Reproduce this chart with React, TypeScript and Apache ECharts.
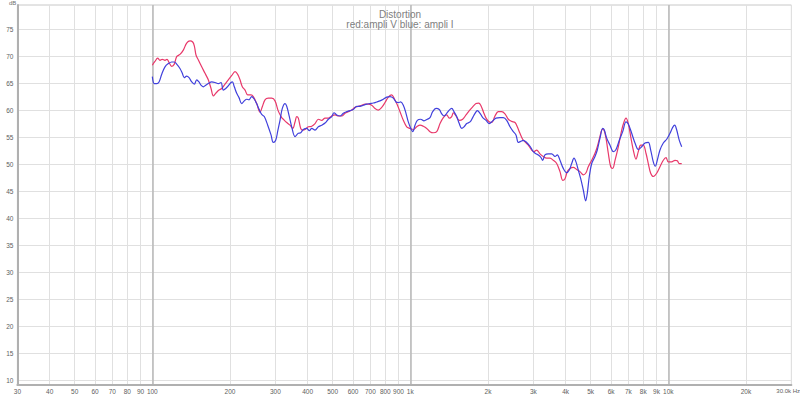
import React, { useEffect, useRef } from "react";
import * as echarts from "echarts";

const titleText = "Distortion";
const subtitleText = "red:ampli V blue: ampli I";
const yUnit = "dB";

const xTickHz = [30, 40, 50, 60, 70, 80, 90, 100, 200, 300, 400, 500, 600, 700, 800, 900, 1000, 2000, 3000, 4000, 5000, 6000, 7000, 8000, 9000, 10000, 20000, 30000];
const xTickLabels = ["30", "40", "50", "60", "70", "80", "90", "100", "200", "300", "400", "500", "600", "700", "800", "900", "1k", "2k", "3k", "4k", "5k", "6k", "7k", "8k", "9k", "10k", "20k", "30.0k Hz"];
const xDecadeHz = [100, 1000, 10000];
const yTicks = [10, 15, 20, 25, 30, 35, 40, 45, 50, 55, 60, 65, 70, 75];

const redFreq = [100, 102.4, 104.9, 107.1, 109.3, 112.0, 114.0, 116.1, 118.9, 121.7, 124.3, 128.0, 131.9, 135.9, 140.0, 143.4, 145.5, 147.7, 150.7, 155.4, 160.1, 164.8, 168.9, 172.4, 176.1, 181.4, 185.8, 191.4, 197.1, 203.2, 209.2, 214.3, 218.8, 223.3, 228.8, 234.3, 241.3, 246.3, 253.8, 261.4, 266.9, 273.4, 281.6, 290.3, 299.0, 307.9, 317.4,
  322.0, 331.9, 341.8, 350.2, 357.4, 362.9, 368.1, 376.1, 382.8, 390.8, 402.5, 414.9, 427.3, 440.1, 453.6, 467.2, 481.2, 496.0, 510.8, 526.1, 542.3, 558.5, 575.1, 592.9, 610.6, 628.8, 648.2, 667.5, 687.5, 708.6, 729.8, 751.6, 774.8, 798.0, 821.8, 847.2, 864.8, 885.9, 912.3, 939.6, 968.4, 997.3,
  1027, 1059, 1091, 1123, 1158, 1192, 1228, 1266, 1304, 1343, 1384, 1416, 1447, 1468, 1504, 1548, 1596, 1644, 1693, 1745, 1798, 1842, 1875, 1919, 1966, 2014, 2068, 2129, 2193, 2260, 2328, 2398, 2472, 2546, 2598, 2661, 2726, 2783, 2866, 2954, 3015, 3089, 3181, 3276, 3377, 3478, 3583, 3693, 3804, 3896, 3977, 4060, 4159, 4283, 4415, 4547, 4683, 4797, 4896, 5048, 5198, 5306, 5435, 5548, 5633, 5735, 5854, 5981, 6089, 6215, 6401, 6597, 6734, 6855, 6997, 7149, 7316, 7495, 7650, 7816, 7999, 8194, 8364, 8545, 8746, 9015, 9284, 9564, 9797, 10000, 10308, 10616, 10837, 11032, 11271];
const redDb = [68.3, 69.0, 69.6, 69.2, 69.4, 69.2, 69.4, 68.8, 68.1, 68.5, 69.9, 70.3, 71.1, 72.4, 72.8, 72.6, 71.9, 70.2, 69.3, 68.0, 66.8, 65.6, 64.0, 62.6, 63.1, 63.7, 64.0, 64.8, 65.6, 66.4, 67.1, 66.6, 65.6, 64.3, 63.7, 62.8, 62.8, 62.5, 61.2, 59.6, 60.6, 61.9, 62.2, 62.2, 61.7, 59.8, 58.6,
  58.3, 57.7, 57.2, 56.6, 57.8, 58.8, 58.5, 56.6, 56.3, 56.4, 56.9, 57.0, 57.5, 58.3, 58.1, 58.5, 58.5, 58.9, 59.1, 58.9, 58.9, 59.4, 59.7, 60.0, 60.5, 60.7, 60.9, 61.1, 61.1, 60.9, 60.3, 60.0, 60.5, 61.4, 62.4, 62.8, 62.2, 61.2, 59.7, 58.1, 56.9, 56.6,
  56.4, 56.9, 57.2, 57.0, 56.6, 56.0, 55.8, 56.0, 57.5, 58.6, 59.1, 58.5, 58.8, 59.5, 58.9, 58.1, 58.3, 59.1, 59.9, 60.6, 61.2, 61.3, 60.9, 59.7, 58.5, 57.9, 57.7, 58.9, 59.7, 59.7, 59.3, 58.3, 57.9, 57.7, 56.9, 55.7, 54.6, 54.1, 53.5, 52.6, 52.3, 52.6, 51.9, 51.4, 51.1, 51.1, 50.7, 50.1, 48.6, 47.0, 47.3, 48.6, 49.2, 49.4, 49.0, 48.6, 48.0, 48.4, 49.5, 50.7, 52.0, 53.2, 55.1, 56.4, 56.3, 54.8, 52.0, 49.5, 49.2, 50.7, 53.2, 56.3, 57.8, 58.5, 57.5, 55.1, 52.6, 50.9, 52.3, 53.5, 53.5, 52.0, 50.1, 48.3, 47.7, 48.3, 49.5, 50.7, 51.2, 50.4, 50.4, 50.7, 50.6, 50.1, 50.1];

const blueFreq = [100, 101.8, 104.0, 106.2, 108.7, 112.0, 115.4, 118.9, 121.7, 124.3, 128.0, 130.7, 133.0, 135.9, 138.8, 142.2, 145.5, 148.6, 151.7, 154.4, 157.6, 161.1, 164.8, 169.9, 175.0, 180.3, 184.6, 188.5, 192.6, 197.1, 201.9, 204.3, 207.9, 212.4, 216.8, 222.1, 227.3, 232.3, 237.1, 242.8, 248.5, 253.8, 259.1, 265.5, 271.7, 280.1, 288.5, 294.4, 300.8, 306.3, 312.6, 319.1, 326.9, 331.9, 339.7, 347.0, 357.4, 368.1, 376.1, 384.9, 396.8, 406.1, 414.9, 427.3, 440.1, 453.6, 467.2, 481.2, 496.0, 506.3, 518.6, 534.1, 550.1, 567.0, 583.9, 601.4, 619.9, 638.4, 657.5, 677.7, 698.0, 718.8, 741.0, 763.1, 786.0, 810.2, 834.4, 859.4, 880.3, 898.6, 918.0, 939.6, 962.3, 982.3,
  1004, 1022, 1043, 1065, 1097, 1130, 1164, 1192, 1221, 1258, 1295, 1324, 1351, 1384, 1416, 1447, 1477, 1513, 1548, 1582, 1615, 1654, 1704, 1745, 1782, 1819, 1863, 1909, 1966, 2024, 2086, 2148, 2226, 2293, 2364, 2435, 2507, 2568, 2621, 2678, 2741, 2825, 2910, 2997, 3070, 3133, 3201, 3259, 3326, 3426, 3532, 3638, 3713, 3804, 3917, 4038, 4133, 4222, 4310, 4387, 4478, 4576, 4683, 4784, 4853, 4940, 5048, 5198, 5306, 5435, 5568, 5648, 5771, 5943, 6121, 6271, 6458, 6656, 6855, 6997, 7213, 7428, 7650, 7886, 8121, 8364, 8545, 8746, 8903, 9063, 9284, 9564, 9858, 10153, 10400, 10588, 10779, 11032, 11271];
const blueDb = [66.2, 64.9, 64.9, 65.2, 66.6, 68.0, 68.6, 68.9, 68.9, 68.5, 67.7, 66.8, 66.0, 66.3, 66.0, 65.2, 64.8, 65.6, 65.2, 64.6, 64.3, 64.6, 64.9, 65.2, 65.1, 64.9, 65.1, 63.7, 64.0, 64.5, 65.1, 65.2, 64.3, 63.1, 62.3, 61.2, 61.7, 62.0, 61.9, 62.5, 62.0, 61.2, 60.2, 59.2, 58.8, 57.2, 55.4, 54.0, 54.4, 56.1, 58.1, 60.3, 61.2, 60.7, 58.8, 56.9, 55.1, 55.7, 55.8, 56.4, 56.6, 56.2, 56.6, 56.3, 56.9, 57.2, 57.6, 58.3, 58.8, 59.5, 59.1, 58.9, 59.4, 59.7, 59.9, 60.1, 60.7, 60.7, 60.9, 61.1, 61.2, 61.3, 61.5, 61.7, 62.0, 62.4, 62.5, 62.2, 61.5, 61.4, 61.5, 60.9, 59.4, 57.8,
  56.6, 56.0, 57.2, 58.1, 58.3, 58.0, 58.3, 58.6, 59.7, 60.3, 60.1, 59.3, 58.9, 59.4, 60.0, 60.3, 59.7, 58.8, 57.5, 56.6, 56.9, 57.5, 57.8, 58.6, 59.4, 59.9, 59.4, 58.6, 58.1, 57.5, 58.0, 58.5, 58.6, 58.6, 58.1, 56.9, 56.0, 55.4, 54.0, 54.2, 54.4, 54.0, 53.3, 52.3, 51.9, 51.7, 51.3, 50.7, 51.7, 51.9, 51.9, 51.4, 51.7, 50.7, 49.2, 48.4, 48.9, 50.1, 51.1, 50.4, 48.9, 47.3, 45.2, 43.2, 44.6, 47.7, 50.1, 51.4, 52.6, 54.8, 56.6, 56.3, 54.8, 53.5, 52.3, 52.7, 54.4, 56.0, 57.8, 57.4, 55.7, 53.9, 52.7, 53.2, 53.9, 54.0, 52.6, 50.4, 49.6, 50.7, 52.6, 53.9, 54.6, 55.7, 56.8, 57.2, 56.3, 54.4, 53.2];

const X_MIN_HZ = 30;
const X_MAX_HZ = 30000;
const Y_MIN = 9.1;
const Y_MAX = 79.45;

const FONT = "'Liberation Sans', Arial, sans-serif";

export default function App() {
  const ref = useRef<HTMLDivElement>(null);
  useEffect(() => {
    if (!ref.current) return;
    const chart = echarts.init(ref.current, null, { renderer: "svg" });
    const lg = (v: number) => Math.log10(v);
    const tickLogs = xTickHz.map(lg);
    const lastIdx = xTickLabels.length - 1;
    const labelFor = (v: number) => {
      let best = 0;
      let bd = Infinity;
      tickLogs.forEach((t, i) => {
        const d = Math.abs(t - v);
        if (d < bd) { bd = d; best = i; }
      });
      if (bd >= 0.005 || best === lastIdx) return "";
      return xTickLabels[best];
    };
    const red = redFreq.map((f, i) => [lg(f), redDb[i]]);
    const blue = blueFreq.map((f, i) => [lg(f), blueDb[i]]);
    chart.setOption({
      animation: false,
      backgroundColor: "#ffffff",
      grid: { left: 17.4, right: 8.6, top: 5, bottom: 9, containLabel: false, outerBoundsMode: "none", show: true, borderColor: "#c8c8c8", borderWidth: 1 },
      title: [
        { text: titleText, left: "center", top: 4, textStyle: { fontSize: 10, fontWeight: "normal", color: "#808080", fontFamily: FONT } },
        { text: subtitleText, left: "center", top: 14, textStyle: { fontSize: 10, fontWeight: "normal", color: "#808080", fontFamily: FONT } },
      ],
      graphic: [
        { type: "text", left: 9, top: 0, style: { text: yUnit, fontSize: 6, fill: "#707070", fontFamily: FONT } },
        { type: "text", right: 0, top: 388, style: { text: xTickLabels[lastIdx], fontSize: 6, fill: "#606060", fontFamily: FONT } },
      ],
      xAxis: [
        {
          type: "value",
          min: lg(X_MIN_HZ),
          max: lg(X_MAX_HZ),
          axisLine: { show: true, onZero: false, lineStyle: { color: "#b0b0b0", width: 2 } },
          axisTick: { show: false, customValues: tickLogs },
          axisLabel: {
            customValues: tickLogs,
            formatter: (v: number) => labelFor(v),
            fontSize: 6.5,
            color: "#606060",
            margin: 3,
            fontFamily: FONT,
            showMinLabel: true,
            showMaxLabel: true,
          },
          splitLine: { show: true, lineStyle: { color: "#e0e0e0", width: 1 } },
        },
        {
          type: "value",
          min: lg(X_MIN_HZ),
          max: lg(X_MAX_HZ),
          position: "bottom",
          axisLine: { show: false },
          axisTick: { show: false, customValues: xDecadeHz.map(lg) },
          axisLabel: { show: false, customValues: xDecadeHz.map(lg) },
          splitLine: { show: true, lineStyle: { color: "#b8b8b8", width: 1.5 } },
        },
      ],
      yAxis: {
        type: "value",
        min: Y_MIN,
        max: Y_MAX,
        axisLine: { show: true, onZero: false, lineStyle: { color: "#b0b0b0", width: 2 } },
        axisTick: { show: false, customValues: yTicks },
        axisLabel: { customValues: yTicks, fontSize: 6.5, color: "#606060", margin: 4, fontFamily: FONT },
        splitLine: { show: true, lineStyle: { color: "#e0e0e0", width: 1 } },
      },
      series: [
        {
          name: "ampli V",
          type: "line",
          data: red,
          showSymbol: false,
          smooth: 0.35,
          lineStyle: { color: "#e8386a", width: 1.2 },
          z: 3,
        },
        {
          name: "ampli I",
          type: "line",
          data: blue,
          showSymbol: false,
          smooth: 0.35,
          lineStyle: { color: "#4040dc", width: 1.2 },
          z: 4,
        },
      ],
    });
    return () => chart.dispose();
  }, []);
  return <div ref={ref} style={{ width: 800, height: 394, position: "absolute", left: 0, top: 0 }} />;
}
